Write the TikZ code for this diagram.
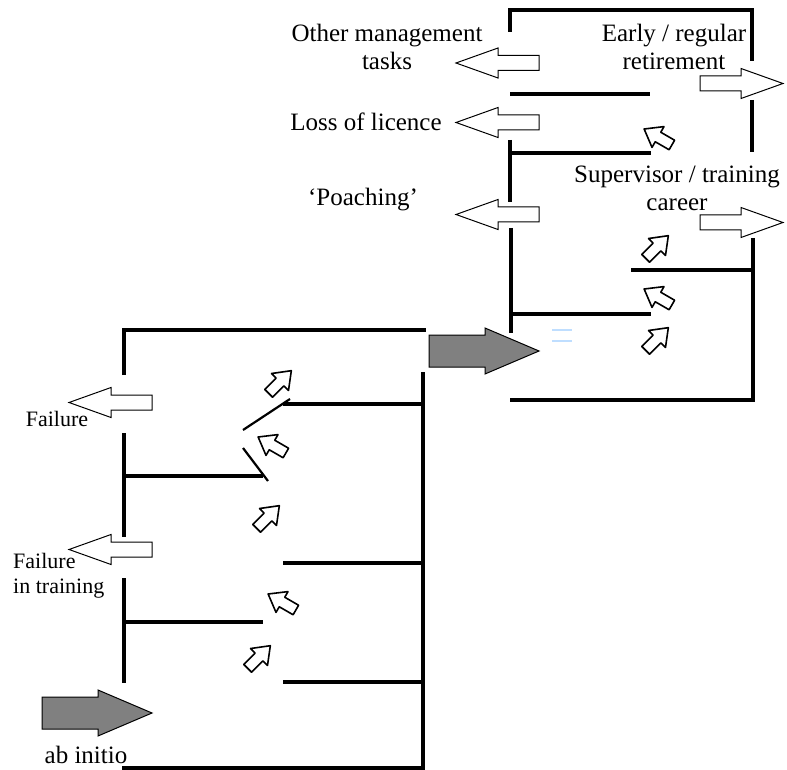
\documentclass[tikz,border=0pt]{standalone}
\usepackage{fontspec}
\setmainfont{Liberation Serif}
\usepackage{tikz}
\definecolor{arrowGray}{rgb}{0.5, 0.5, 0.5}
\definecolor{markBlue}{rgb}{0.75, 0.87, 1}

\tikzset{
  wall/.style={line width=4pt},
  slant/.style={line width=2.2pt},
  bigtext/.style={font=\fontsize{25}{28}\selectfont, align=center, inner sep=0pt},
  smalltext/.style={font=\fontsize{22}{25}\selectfont, align=left, inner sep=0pt},
  hollowarr/.pic={\draw[line width=1pt, fill=white] (0,-7.5) -- (41,-7.5) -- (41,-15) -- (83,0) -- (41,15) -- (41,7.5) -- (0,7.5) -- cycle;},
  grayarr/.pic={\draw[line width=1pt, fill=arrowGray] (0,-16) -- (56,-16) -- (56,-23) -- (110,0) -- (56,23) -- (56,16) -- (0,16) -- cycle;},
  smallarr/.pic={\draw[line width=1.6pt, fill=white, line join=round] (-16,-5.5) -- (0,-5.5) -- (0,-12) -- (16,0) -- (0,12) -- (0,5.5) -- (-16,5.5) -- cycle;}
}

\begin{document}
\begin{tikzpicture}[x=1pt, y=-1pt]
  \useasboundingbox (0,0) rectangle (787,770);
  % right-hand block
  \draw[wall] (510,32) -- (510,10) -- (752,10) -- (752,61);
  \draw[wall] (510,94) -- (650,94);
  \draw[wall] (752,100) -- (752,152);
  \draw[wall] (510,140) -- (510,202);
  \draw[wall] (510,153) -- (651,153);
  \draw[wall] (511,228) -- (511,333);
  \draw[wall] (511,314) -- (651,314);
  \draw[wall] (753,238) -- (753,400) -- (510,400);
  \draw[wall] (631,270) -- (753,270);
  % left-hand block
  \draw[wall] (124,375) -- (124,330) -- (426,330);
  \draw[wall] (423,372) -- (423,768) -- (122,768);
  \draw[wall] (283,404) -- (423,404);
  \draw[slant] (290,399) -- (243,430);
  \draw[slant] (243,448) -- (268,481);
  \draw[wall] (124,433) -- (124,537);
  \draw[wall] (124,476) -- (263,476);
  \draw[wall] (124,578) -- (124,683);
  \draw[wall] (124,622) -- (263,622);
  \draw[wall] (283,563) -- (423,563);
  \draw[wall] (283,682) -- (423,682);

  \pic[rotate=180] at (539,63) {hollowarr};
  \pic[rotate=180] at (539,122.5) {hollowarr};
  \pic[rotate=180] at (539,214.5) {hollowarr};
  \pic[rotate=180] at (152,402.5) {hollowarr};
  \pic[rotate=180] at (152,549.5) {hollowarr};
  \pic at (700,83.5) {hollowarr};
  \pic at (700,222.5) {hollowarr};

  \pic at (429,351) {grayarr};
  \pic at (42,713) {grayarr};

  \pic[rotate=150] at (658,137) {smallarr};
  \pic[rotate=45] at (657,247) {smallarr};
  \pic[rotate=150] at (658,297) {smallarr};
  \pic[rotate=45] at (657,339) {smallarr};
  \pic[rotate=45] at (280,382) {smallarr};
  \pic[rotate=150] at (272,445) {smallarr};
  \pic[rotate=45] at (268,517) {smallarr};
  \pic[rotate=150] at (282,602) {smallarr};
  \pic[rotate=45] at (259,657) {smallarr};

  \draw[markBlue, line width=1.2pt] (552,330) -- (572,330) (552,341) -- (572,341);

  \node[bigtext] (othertasks) at (387,47) {Other management\\tasks};
  \node[bigtext] (retire) at (674,47) {Early / regular\\retirement};
  \node[bigtext] (licence) at (366,122) {Loss of licence};
  \node[bigtext] (supervisor) at (677,188) {Supervisor / training\\career};
  \node[bigtext] (poaching) at (363,200) {`Poaching'};
  \node[smalltext] (failure) at (57,419) {Failure};
  \node[smalltext, anchor=west] (trainfail) at (13,576) {Failure\\in training};
  \node[bigtext] (abinitio) at (86,755) {ab initio};
\end{tikzpicture}
\end{document}
